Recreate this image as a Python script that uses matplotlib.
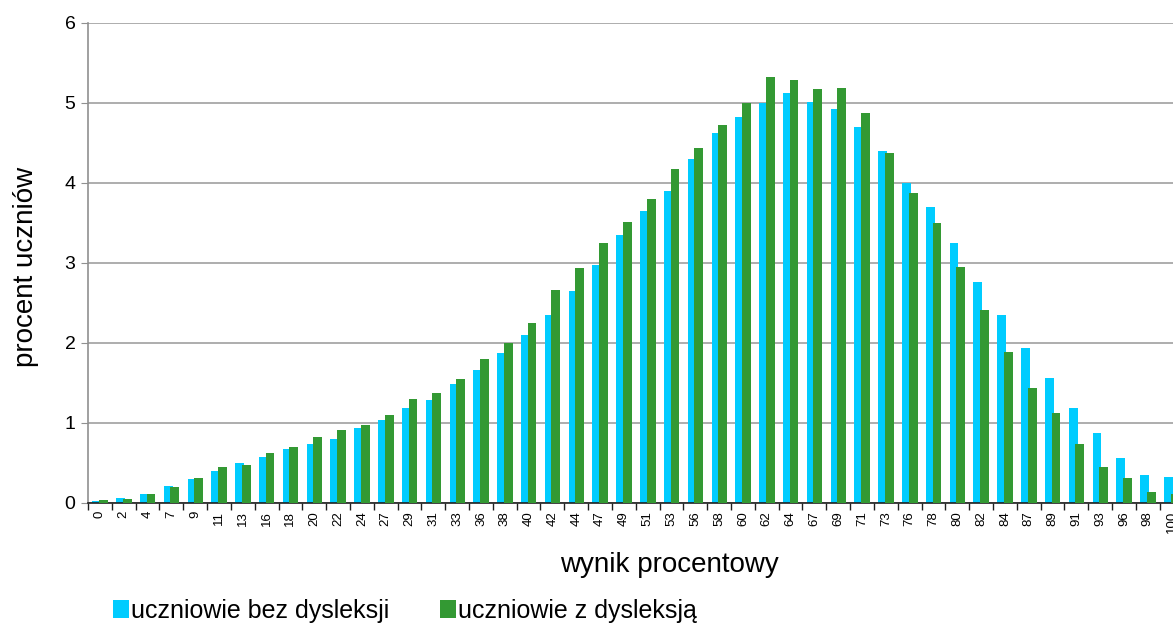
import matplotlib.pyplot as plt
import numpy as np

plt.rcParams["font.family"] = ["Liberation Sans", "DejaVu Sans"]

# wynik procentowy (kategorie osi X)
scores = [0, 2, 4, 7, 9, 11, 13, 16, 18, 20, 22, 24, 27, 29, 31, 33, 36, 38, 40, 42,
          44, 47, 49, 51, 53, 56, 58, 60, 62, 64, 67, 69, 71, 73, 76, 78, 80, 82, 84,
          87, 89, 91, 93, 96, 98, 100]

# uczniowie bez dysleksji
no_dys = [0.025, 0.06, 0.11, 0.21, 0.29, 0.40, 0.49, 0.575, 0.675, 0.73, 0.80, 0.93,
          1.03, 1.18, 1.28, 1.48, 1.66, 1.87, 2.10, 2.34, 2.65, 2.975, 3.34, 3.65,
          3.90, 4.30, 4.62, 4.825, 4.99, 5.12, 5.01, 4.925, 4.70, 4.40, 3.99, 3.70,
          3.25, 2.76, 2.35, 1.93, 1.56, 1.18, 0.87, 0.56, 0.34, 0.32]

# uczniowie z dysleksja
dys = [0.03, 0.045, 0.11, 0.19, 0.31, 0.45, 0.47, 0.62, 0.69, 0.82, 0.91, 0.97,
       1.10, 1.29, 1.375, 1.54, 1.79, 2.00, 2.25, 2.66, 2.93, 3.24, 3.51, 3.80,
       4.17, 4.43, 4.72, 5.00, 5.32, 5.28, 5.17, 5.18, 4.87, 4.37, 3.87, 3.50,
       2.95, 2.41, 1.88, 1.43, 1.12, 0.73, 0.44, 0.31, 0.13, 0.11]

BLUE = "#00CCFF"
GREEN = "#339933"

fig = plt.figure(figsize=(11.73, 6.26), dpi=100)
# os wychodzi poza prawa krawedz obrazka (jak w oryginale)
ax = fig.add_axes([0.075, 0.197, 0.934, 0.767])

x = np.arange(len(scores))
w = 0.37
ax.bar(x - 0.135, no_dys, width=w, color=BLUE, label="uczniowie bez dysleksji", zorder=2)
ax.bar(x + 0.145, dys, width=w, color=GREEN, label="uczniowie z dysleksją", zorder=3)

ax.set_xlim(-0.5, len(scores) - 0.5)
ax.set_ylim(0, 6)
ax.set_yticks(range(7))
ax.yaxis.grid(True, color="#A0A0A0", linewidth=1.2, zorder=0)
ax.set_axisbelow(True)

ax.set_xticks(x)
ax.set_xticklabels([str(s) for s in scores], rotation=90, fontsize=9.5)
ax.set_xticks(np.arange(len(scores) + 1) - 0.5, minor=True)
ax.tick_params(axis="x", which="major", length=0, pad=6)
ax.tick_params(axis="x", which="minor", length=5, color="#202020", width=1)
ax.tick_params(axis="y", length=5, color="#909090", labelsize=14, pad=4)

for s in ["top", "right"]:
    ax.spines[s].set_visible(False)
ax.spines["left"].set_color("#909090")
ax.spines["left"].set_linewidth(1.2)
ax.spines["bottom"].set_color("#202020")
ax.spines["bottom"].set_linewidth(1.2)

ax.set_ylabel("procent uczniów", fontsize=20)
ax.yaxis.set_label_coords(-0.045, 0.49)
ax.set_xlabel("wynik procentowy", fontsize=20)
ax.xaxis.set_label_coords(0.531, -0.102)

fig.legend(loc="center left", bbox_to_anchor=(0.096, 0.024), ncol=2, frameon=False,
           fontsize=18, handlelength=0.65, handleheight=0.75, handletextpad=0.1,
           columnspacing=2.0, borderpad=0, borderaxespad=0)

fig.savefig("out.png", dpi=100)
